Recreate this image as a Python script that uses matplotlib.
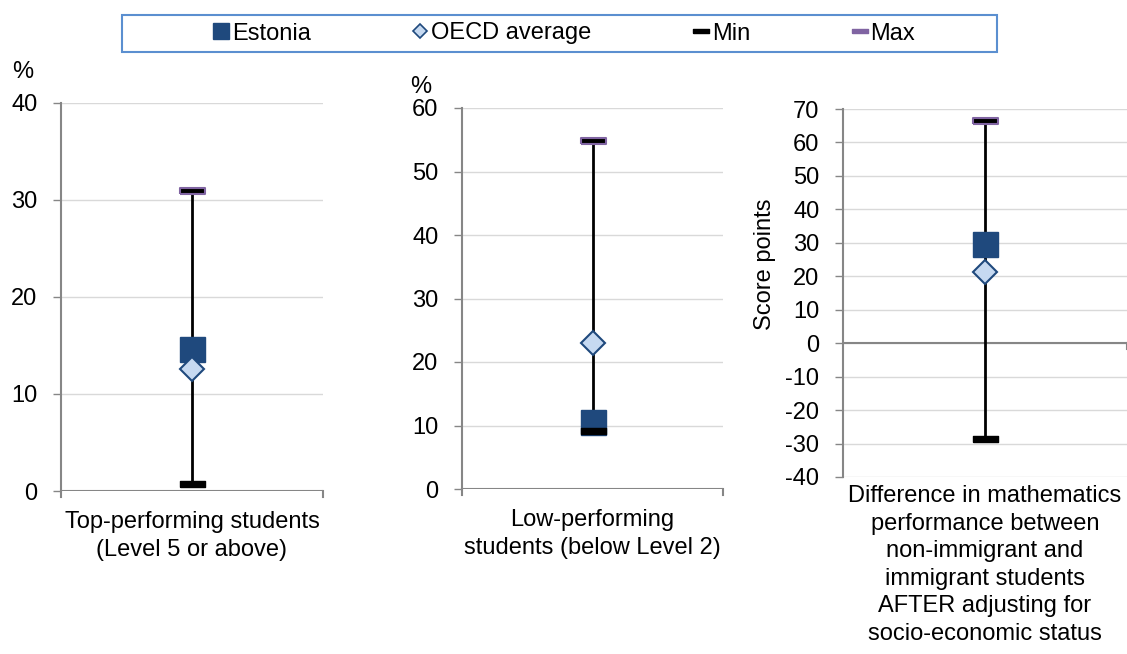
import matplotlib
matplotlib.use("Agg")
import matplotlib.pyplot as plt
from matplotlib.lines import Line2D
from matplotlib.patches import Rectangle

plt.rcParams['font.family'] = ['Liberation Sans', 'DejaVu Sans']
plt.rcParams['axes.unicode_minus'] = False

categories = ["Top-performing students\n(Level 5 or above)",
              "Low-performing\nstudents (below Level 2)",
              "Difference in mathematics\nperformance between\nnon-immigrant and\nimmigrant students\nAFTER adjusting for\nsocio-economic status"]
estonia = [14.6, 10.6, 29.5]
oecd = [12.6, 23.0, 21.3]
mins = [0.7, 9.2, -28.6]
maxs = [30.9, 54.8, 66.5]
ylims = [(0, 40), (0, 60), (-40, 70)]
yticks = [list(range(0, 41, 10)), list(range(0, 61, 10)), list(range(-40, 71, 10))]

DARK = "#1F497D"
LIGHT = "#C6D9F1"
PURPLE = "#8064A2"
GRID = "#D9D9D9"
SPINE = "#868686"
FS = 17

dash = [(-1, -0.25), (1, -0.25), (1, 0.25), (-1, 0.25), (-1, -0.25)]

fig = plt.figure(figsize=(11.27, 6.54), dpi=100)
W, H = 1127, 654
boxes = [(61, 103, 323, 491), (462, 108, 723, 489), (843, 109, 1127, 477)]
label_tops = [511, 509, 485]

for i, (l, t, r, b) in enumerate(boxes):
    ax = fig.add_axes([l / W, 1 - b / H, (r - l) / W, (b - t) / H])
    ax.set_xlim(0, 1)
    ax.set_ylim(*ylims[i])
    ax.set_yticks(yticks[i])
    ax.tick_params(axis='y', labelsize=FS, length=6, width=1, color=SPINE, pad=11)
    ax.grid(axis='y', color=GRID, lw=1)
    ax.set_axisbelow(True)
    for s in ['top', 'right', 'bottom']:
        ax.spines[s].set_visible(False)
    ax.spines['left'].set_color(SPINE)
    ax.spines['left'].set_linewidth(1.5)
    ax.set_xticks([])
    ax.axhline(0, color=SPINE, lw=1.5, zorder=1.5)
    fig.text((l + r) / 2 / W, 1 - label_tops[i] / H, categories[i],
             ha='center', va='top', fontsize=FS, linespacing=1.33)
    x = [0.5]
    ax.plot([0.5, 0.5], [mins[i], maxs[i]], color='black', lw=2, zorder=3)
    ax.plot(x, [estonia[i]], marker='s', ms=18, color=DARK, mec=DARK, ls='none', zorder=4)
    ax.plot(x, [oecd[i]], marker='D', ms=12.5, mfc=LIGHT, mec=DARK, mew=1.5, ls='none', zorder=5)
    ax.plot(x, [mins[i]], marker=dash, ms=18, mfc='black', mec='black', mew=1, ls='none', zorder=6)
    ax.plot(x, [maxs[i]], marker=dash, ms=18, mfc='black', mec=PURPLE, mew=1.5, ls='none', zorder=6)
    yr = ylims[i][1] - ylims[i][0]
    tl = 6 / (b - t) * yr
    ax.plot([1, 1], [0, -tl], color=SPINE, lw=1.5, clip_on=False)
    if i < 2:
        ax.plot([0, 0], [0, -tl], color=SPINE, lw=1.5, clip_on=False)

fig.text(23 / W, 1 - 72 / H, "%", fontsize=FS, ha='center', va='center')
fig.text(421 / W, 1 - 87 / H, "%", fontsize=FS, ha='center', va='center')
fig.text(765 / W, 1 - 264 / H, "Score points", fontsize=FS, rotation=90, ha='center', va='center')

# legend frame
fig.patches.append(Rectangle((122 / W, 1 - 52 / H), (997 - 122) / W, (52 - 15) / H,
                             transform=fig.transFigure, fill=False,
                             edgecolor="#5B8FD0", lw=1.5))

handles = [
    Line2D([], [], marker='s', ms=11, color=DARK, ls='none'),
    Line2D([], [], marker='D', ms=7.5, mfc=LIGHT, mec=DARK, mew=1.2, ls='none'),
    Line2D([], [], marker=dash, ms=11, mfc='black', mec='black', ls='none'),
    Line2D([], [], marker=dash, ms=11, mfc=PURPLE, mec=PURPLE, ls='none'),
]
labels = ["Estonia", "OECD average", "Min", "Max"]
leg = fig.legend(handles, labels, loc='center', bbox_to_anchor=(564 / W, 1 - 33.5 / H),
                 ncol=4, fontsize=FS, frameon=False,
                 handlelength=0.7, handletextpad=0.1, columnspacing=4.3,
                 borderpad=0.3, borderaxespad=0)

fig.savefig("out.png", dpi=100)
